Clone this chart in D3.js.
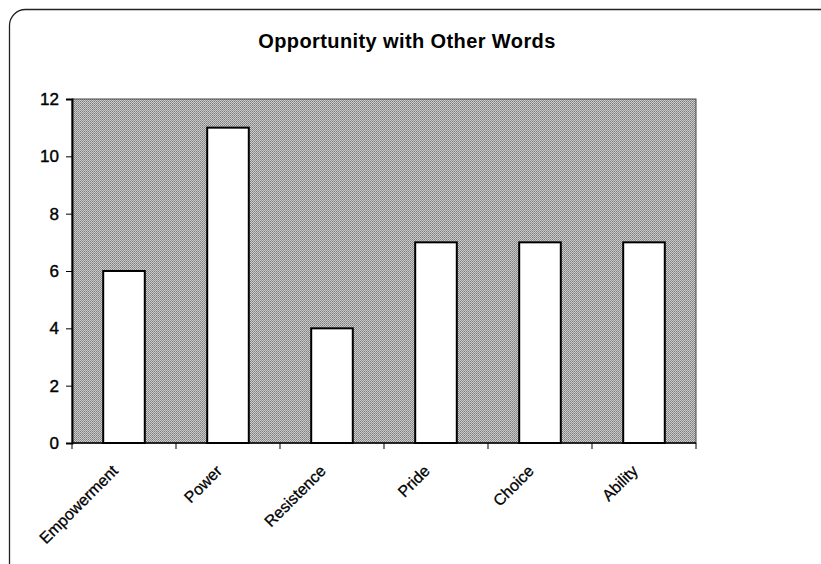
<!DOCTYPE html>
<html>
<head>
<meta charset="utf-8">
<script src="https://cdn.jsdelivr.net/npm/d3@7"></script>
<style>
  body { margin: 0; background: #fff; }
  text { font-family: "Liberation Sans", Arial, sans-serif; fill: #000; }
</style>
</head>
<body>
<script>
var categories = ["Empowerment", "Power", "Resistence", "Pride", "Choice", "Ability"];
var counts = [6, 11, 4, 7, 7, 7];
var yTicks = [0, 2, 4, 6, 8, 10, 12];

var W = 821, H = 564;
var margin = {top: 99, right: 125, bottom: 121, left: 72},
  width = W - margin.left - margin.right,
  height = H - margin.top - margin.bottom;

var svg = d3.select("body").append("svg")
  .attr("width", W)
  .attr("height", H);

// dither-like texture for the plot area
var defs = svg.append("defs");
var pat = defs.append("pattern")
  .attr("id", "dither")
  .attr("width", 2).attr("height", 2)
  .attr("patternUnits", "userSpaceOnUse");
pat.append("rect").attr("width", 2).attr("height", 2).attr("fill", "#cccccc");
pat.append("rect").attr("width", 1).attr("height", 1).attr("fill", "#7c7c7c");
pat.append("rect").attr("x", 1).attr("y", 1).attr("width", 1).attr("height", 1).attr("fill", "#929292");

// chart frame (runs off the right and bottom of the picture)
svg.append("rect")
  .attr("x", 9.5).attr("y", 9.5)
  .attr("width", 840).attr("height", 620)
  .attr("rx", 16).attr("ry", 16)
  .attr("fill", "none")
  .attr("stroke", "#222")
  .attr("stroke-width", 1.3);

svg.append("text")
  .attr("x", 407)
  .attr("y", 48)
  .attr("text-anchor", "middle")
  .style("font-size", "20px")
  .style("font-weight", "bold")
  .style("letter-spacing", "0.4px")
  .text("Opportunity with Other Words");

var g = svg.append("g")
  .attr("transform", "translate(" + margin.left + "," + margin.top + ")");

var x = d3.scaleBand()
  .domain(categories)
  .range([0, width])
  .paddingInner(0.6)
  .paddingOuter(0.3);

var xBand = d3.scaleBand()
  .domain(categories)
  .range([0, width]);

var y = d3.scaleLinear()
  .domain([0, 12])
  .range([height, 0]);

g.append("rect")
  .attr("width", width)
  .attr("height", height)
  .attr("fill", "url(#dither)")
  .attr("stroke", "#444")
  .attr("stroke-width", 1);

g.selectAll(".bar")
  .data(counts)
  .enter().append("rect")
  .attr("class", "bar")
  .attr("x", function (d, i) { return x(categories[i]); })
  .attr("y", function (d) { return y(d); })
  .attr("width", x.bandwidth())
  .attr("height", function (d) { return height - y(d); })
  .attr("fill", "#fff")
  .attr("stroke", "#000")
  .attr("stroke-width", 2);

// y axis
var yAxis = g.append("g")
  .call(d3.axisLeft(y).tickValues(yTicks).tickSize(6).tickPadding(7));
yAxis.select(".domain").attr("stroke", "#000").attr("stroke-width", 2);
yAxis.selectAll("text")
  .style("font-size", "17px")
  .style("stroke", "#000")
  .style("stroke-width", "0.4px");

// x axis: ticks at category boundaries
var bounds = categories.map(function (c) { return xBand(c); }).concat([width]);
var xAxis = g.append("g").attr("transform", "translate(0," + height + ")");
xAxis.append("line")
  .attr("x1", 0).attr("x2", width)
  .attr("stroke", "#000").attr("stroke-width", 1.5);
xAxis.selectAll(".tk")
  .data(bounds)
  .enter().append("line")
  .attr("class", "tk")
  .attr("x1", function (d) { return d; })
  .attr("x2", function (d) { return d; })
  .attr("y1", 0).attr("y2", 6)
  .attr("stroke", "#000");

xAxis.selectAll(".lbl")
  .data(categories)
  .enter().append("text")
  .attr("class", "lbl")
  .attr("text-anchor", "end")
  .attr("transform", function (d) {
    return "translate(" + (xBand(d) + xBand.bandwidth() / 2 - 13) + ",21) rotate(-45)";
  })
  .attr("dy", "0.7em")
  .style("font-size", "16px")
  .style("stroke", "#000")
  .style("stroke-width", "0.3px")
  .text(function (d) { return d; });
</script>
</body>
</html>
